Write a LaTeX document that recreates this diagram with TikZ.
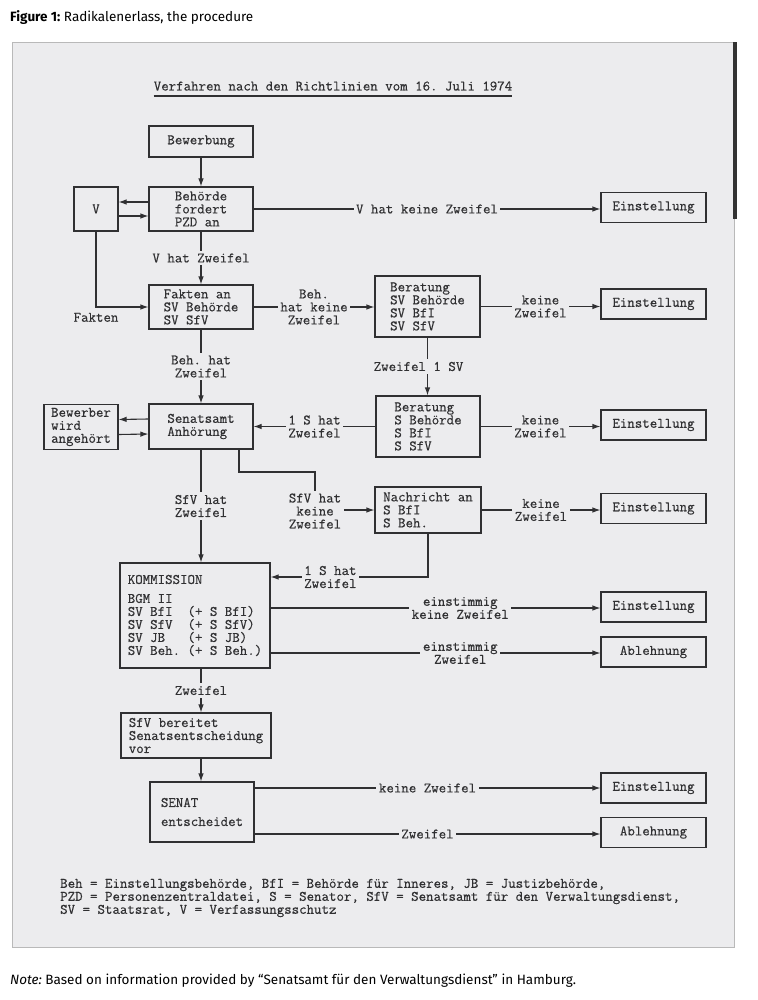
\documentclass[tikz,border=0pt]{standalone}
\usepackage{fontspec}
\newfontfamily\capfont{Fira Sans}
\newfontfamily\mono{Latin Modern Mono}[FakeBold=0.4]
\usepackage{xcolor}
\usepackage{tikz}
\usetikzlibrary{arrows.meta,positioning,calc}

\definecolor{paper}{RGB}{236,236,238}
\definecolor{ink}{RGB}{48,48,50}

\begin{document}
\frenchspacing
\begin{tikzpicture}[
			x = 1pt, y = -1pt,
			>={Latex[length=8pt,width=5.5pt]},
			every node/.style = {font=\fontsize{14.5}{13}\selectfont\mono, text=ink},
			box/.style = {draw=ink, line width=1.1pt, align=left, inner sep=0pt},
			goal/.style = {box, minimum width=105, minimum height=30},
			tag/.style = {fill=paper, align=center, inner sep=2.5pt},
			link/.style = {draw=ink, line width=1.1pt},
			]

			\useasboundingbox (0,0) rectangle (757,1000);

			% Blatt
			\filldraw[fill=paper, draw=gray!55, line width=0.8pt] (12,42) rectangle (734,947);
			\fill[black!80] (733,42) rectangle (736.5,219);

			\node[anchor=base west, inner sep=0pt, text=black, font=\capfont\fontsize{13.5}{15}\selectfont] (caption) at (10,22) {\textbf{Figure 1:} Radikalenerlass, the procedure};
			\node[anchor=base west, inner sep=0pt, text=black, font=\capfont\fontsize{13.5}{15}\selectfont] (note) at (10,984) {\textit{Note:} Based on information provided by “Senatsamt für den Verwaltungsdienst” in Hamburg.};

			\node[anchor=base, inner sep=0pt] (titel) at (333,90.5) {Verfahren nach den Richtlinien vom 16. Juli 1974};
			\draw[link] ([yshift=-5.5pt]titel.base west) -- ([yshift=-5.5pt]titel.base east);

			% Kaestchen
			\node[box, minimum width=104, minimum height=31] (bew) at (201,141.5) {Bewerbung};
			\node[box, minimum width=104, minimum height=44] (beh) at (201,209) {Behörde\\fordert\\PZD an};
			\node[box, minimum width=44, minimum height=44] (vs) at (96,209) {V};
			\node[box, minimum width=104, minimum height=44] (fak) at (201,307) {Fakten an\\SV Behörde\\SV SfV};
			\node[box, minimum width=105, minimum height=61] (ber1) at (427.5,306.5) {Beratung\\SV Behörde\\SV BfI\\SV SfV};
			\node[box, minimum width=104, minimum height=45] (sen) at (201,426.5) {Senatsamt\\Anhörung};
			\node[box, minimum width=74, minimum height=45] (bwa) at (81,427) {Bewerber\\wird\\angehört};
			\node[box, minimum width=104, minimum height=61] (ber2) at (428,426.5) {Beratung\\S Behörde\\S BfI\\S SfV};
			\node[box, minimum width=106, minimum height=46] (nach) at (428,510) {Nachricht an\\S BfI\\S Beh.};
			\node[box, minimum width=150, minimum height=105] (kom) at (195,615.5) {KOMMISSION\\[6pt]BGM II\\SV BfI~~(+ S BfI)\\SV SfV~~(+ S SfV)\\SV JB~~~(+ S JB)\\SV Beh. (+ S Beh.)};
			\node[box, minimum width=150, minimum height=45] (sfv) at (196,735.5) {SfV bereitet\\Senatsentscheidung\\vor};
			\node[box, minimum width=104, minimum height=60] (senat) at (202,812) {SENAT\\[6pt]entscheidet};

			\node[goal] (ein1) at (653.5,207.5) {Einstellung};
			\node[goal] (ein2) at (653.5,304) {Einstellung};
			\node[goal] (ein3) at (653.5,425) {Einstellung};
			\node[goal] (ein4) at (653.5,508.5) {Einstellung};
			\node[goal] (ein5) at (653.5,607) {Einstellung};
			\node[goal] (abl1) at (653.5,652) {Ablehnung};
			\node[goal] (ein6) at (653.5,788) {Einstellung};
			\node[goal] (abl2) at (653.5,832.5) {Ablehnung};

			% Pfeile
			\draw[link,->] (bew) -- (beh);
			\draw[link,->] ([yshift=7pt]beh.west) -- ([yshift=7pt]vs.east);
			\draw[link,->] ([yshift=-7pt]vs.east) -- ([yshift=-7pt]beh.west);
			\draw[link,->] (beh.east) -- node[tag]{V hat keine Zweifel} (beh.east -| ein1.west);
			\draw[link,->] (beh) -- node[tag]{V hat Zweifel} (fak);
			\draw[link,->] (vs.south) |- node[pos=0.5, below=2pt]{Fakten} (fak.west);

			\draw[link,->] (fak.east) -- node[tag]{Beh.\\hat keine\\Zweifel} (fak.east -| ber1.west);
			\draw[link,->] (ber1.east) -- node[tag]{keine\\Zweifel} (ber1.east -| ein2.west);
			\draw[link,->] (fak) -- node[tag]{Beh. hat\\Zweifel} (sen);
			\draw[link,->] (ber1.south) -- node[tag, xshift=-9pt]{Zweifel 1 SV} (ber1.south |- ber2.north);

			\draw[link,->] (ber2.west) -- node[tag]{1 S hat\\Zweifel} (ber2.west -| sen.east);
			\draw[link,->] (ber2.east) -- node[tag]{keine\\Zweifel} (ber2.east -| ein3.west);
			\draw[link,->] ([yshift=7.5pt]sen.west) -- ([yshift=7.5pt]bwa.east);
			\draw[link,->] ([yshift=-7.5pt]bwa.east) -- ([yshift=-7.5pt]sen.west);

			\draw[link,->] (sen.south) -- node[tag]{SfV hat\\Zweifel} (sen.south |- kom.north);
			\coordinate (knick) at (315,472);
			\node[tag] (sfvk) at (315,511) {SfV hat\\keine\\Zweifel};
			\draw[link] ([xshift=38pt]sen.south) |- (knick) -- (sfvk.north);
			\draw[link,->] (sfvk.east |- nach.west) -- (nach.west);
			\draw[link,->] (nach.east) -- node[tag]{keine\\Zweifel} (nach.east -| ein4.west);
			\draw[link,->] (nach.south) |- node[tag, pos=0.81]{1 S hat\\Zweifel} ([yshift=38.5pt]kom.east);

			\draw[link,->] ([yshift=7.5pt]kom.east) -- node[tag, pos=0.575]{einstimmig\\keine Zweifel} ([yshift=7.5pt]kom.east -| ein5.west);
			\draw[link,->] ([yshift=-37.5pt]kom.east) -- node[tag, pos=0.575]{einstimmig\\Zweifel} ([yshift=-37.5pt]kom.east -| abl1.west);
			\draw[link,->] (bew.south |- kom.south) -- node[tag]{Zweifel} (bew.south |- sfv.north);
			\draw[link,->] (bew.south |- sfv.south) -- (bew.south |- senat.north);

			\draw[link,->] ([yshift=24pt]senat.east) -- node[tag]{keine Zweifel} ([yshift=24pt]senat.east -| ein6.west);
			\draw[link,->] ([yshift=-22pt]senat.east) -- node[tag]{Zweifel} ([yshift=-22pt]senat.east -| abl2.west);

			% Legende
			\node[anchor=west, align=left, inner sep=0pt] (legende) at (60,898) {Beh = Einstellungsbehörde, BfI = Behörde für Inneres, JB = Justizbehörde,\\PZD = Personenzentraldatei, S = Senator, SfV = Senatsamt für den Verwaltungsdienst,\\SV = Staatsrat, V = Verfassungsschutz};

		\end{tikzpicture}
\end{document}
